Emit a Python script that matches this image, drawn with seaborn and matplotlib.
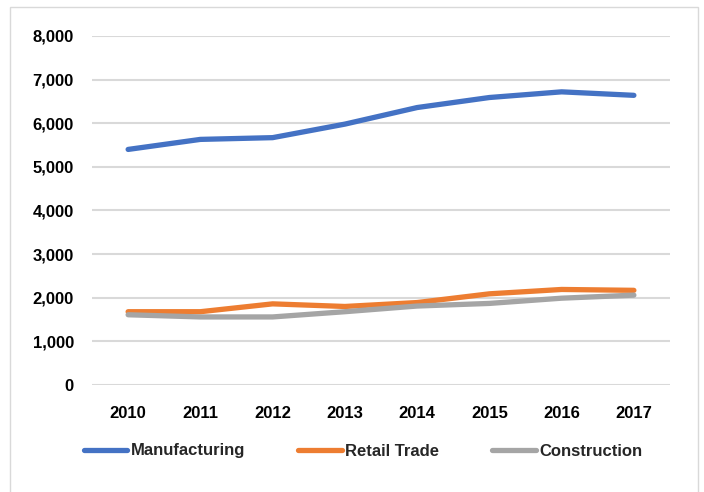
import pandas as pd
import matplotlib
matplotlib.use("Agg")
import matplotlib.pyplot as plt
import seaborn as sns
from matplotlib.patches import Rectangle

years = ['2010', '2011', '2012', '2013', '2014', '2015', '2016', '2017']
manufacturing = [5400, 5630, 5670, 5980, 6360, 6590, 6720, 6640]
retail_trade = [1680, 1680, 1860, 1800, 1890, 2090, 2190, 2170]
construction = [1610, 1560, 1560, 1680, 1810, 1870, 1990, 2060]
series_names = ['Manufacturing', 'Retail Trade', 'Construction']
colors = ['#4472C4', '#ED7D31', '#A5A5A5']

df = pd.DataFrame({'year': years * 3,
                   'value': manufacturing + retail_trade + construction,
                   'series': [s for s in series_names for _ in years]})

sns.set_style('white')
plt.rcParams['font.family'] = ['Liberation Sans', 'DejaVu Sans']

fig = plt.figure(figsize=(7.04, 4.92), dpi=100)
ax = fig.add_axes([92 / 704, 1 - 385 / 492, 578 / 704, 349 / 492])

sns.lineplot(data=df, x='year', y='value', hue='series', palette=colors,
             linewidth=3.8, ax=ax, sort=False, legend=False)
for line in ax.lines:
    line.set_solid_capstyle('round')
    line.set_solid_joinstyle('round')

ax.set_xlim(-0.5, 7.5)
ax.set_ylim(0, 8000)
ax.set_yticks(range(0, 8001, 1000))
ax.set_yticklabels([f'{v:,}' for v in range(0, 8001, 1000)])
ax.yaxis.grid(True, color='#D9D9D9', linewidth=1.5)
ax.set_axisbelow(True)
ax.set_xlabel('')
ax.set_ylabel('')
for s in ax.spines.values():
    s.set_visible(False)
ax.tick_params(axis='both', length=0, labelsize=12, colors='black')
ax.tick_params(axis='y', pad=13)
ax.tick_params(axis='x', pad=15)
for lbl in ax.get_xticklabels() + ax.get_yticklabels():
    lbl.set_fontweight('bold')

handles = [plt.Line2D([], [], color=c, linewidth=3.8, solid_capstyle='round') for c in colors]
leg = fig.legend(handles, series_names, loc='center', bbox_to_anchor=(363 / 704, 1 - 451 / 492),
                 ncol=3, frameon=False, handlelength=2.6, handletextpad=0.2,
                 columnspacing=3.2, prop={'size': 12, 'weight': 'bold'})

fig.patches.append(Rectangle((10 / 704, -0.05), 688 / 704, 1 - 7 / 492 + 0.05,
                             transform=fig.transFigure, fill=False,
                             edgecolor='#D9D9D9', linewidth=1))

fig.savefig('out.png', dpi=100)
